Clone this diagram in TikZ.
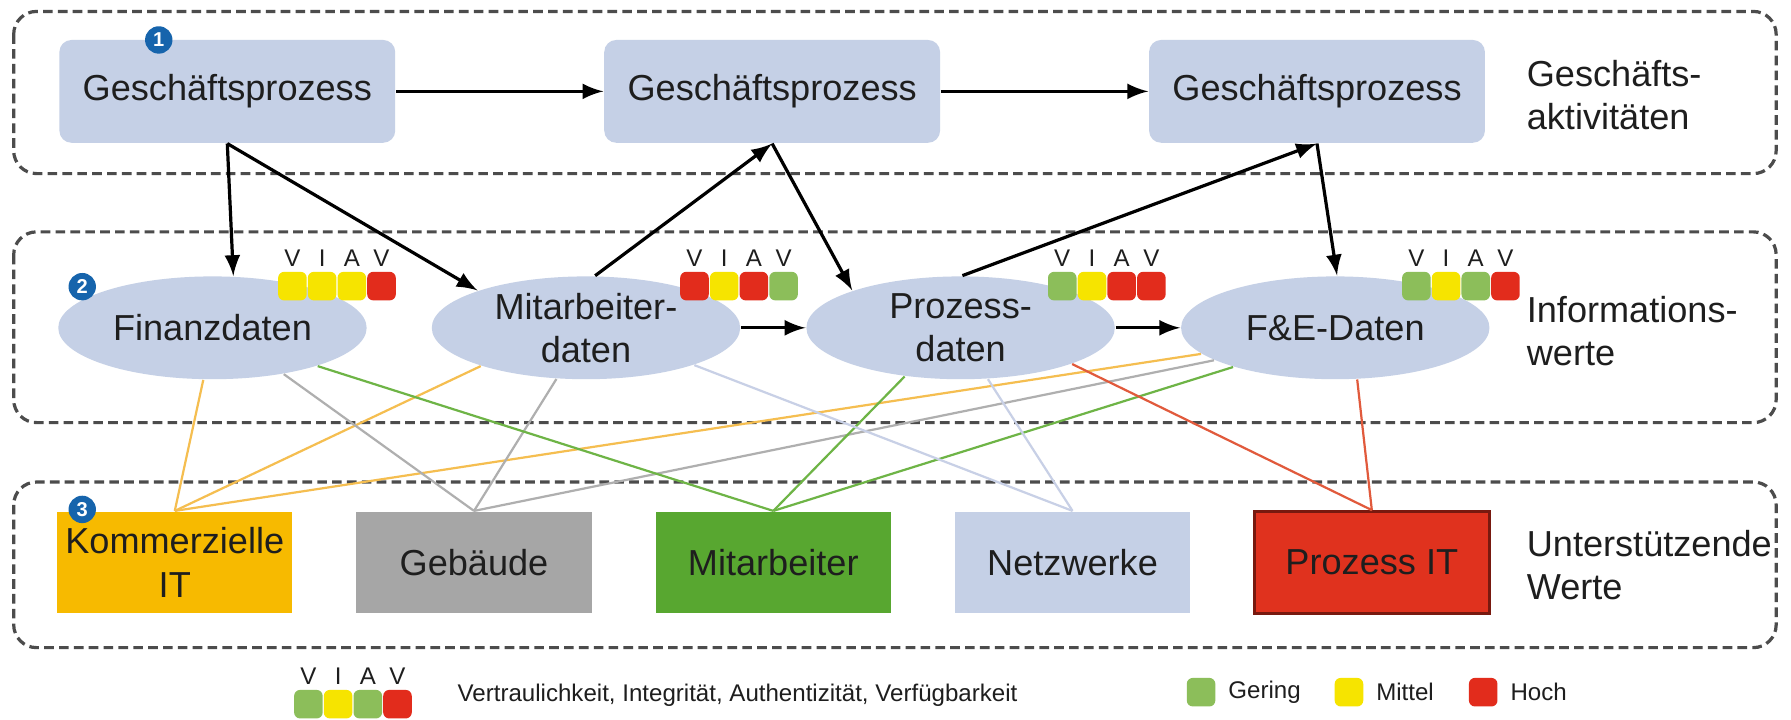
\documentclass[tikz,border=0pt]{standalone}
\usepackage{fontspec}
\setmainfont{Liberation Sans}
\usepackage{tikz}
\usetikzlibrary{arrows,positioning,shapes.geometric}

\definecolor{procblue}{RGB}{197,208,230}
\definecolor{kitorange}{RGB}{247,186,0}
\definecolor{buildgray}{RGB}{166,166,166}
\definecolor{staffgreen}{RGB}{88,167,48}
\definecolor{itred}{RGB}{224,50,30}
\definecolor{itborder}{RGB}{120,25,15}
\definecolor{lowgreen}{RGB}{140,190,90}
\definecolor{midyellow}{RGB}{246,228,0}
\definecolor{highred}{RGB}{226,44,28}
\definecolor{badgeblue}{RGB}{22,100,172}
\definecolor{textdark}{RGB}{30,30,30}
\definecolor{linkorange}{RGB}{245,190,80}
\definecolor{linkgray}{RGB}{175,175,175}
\definecolor{linkgreen}{RGB}{110,180,70}
\definecolor{linkblue}{RGB}{200,208,230}
\definecolor{linkred}{RGB}{225,90,60}

% name, x, y, four colours
\newcommand{\viav}[7]{%
  \foreach \col [count=\i] in {#4,#5,#6,#7}
    \node[viavsq, fill=\col] (#1-\i) at ({#2+(\i-0.5)*0.26},#3) {};
  \foreach \ltr [count=\i] in {V,I,A,V}
    \node[viavlt] (#1-l\i) at ({#2+(\i-0.5)*0.26},{#3+0.245}) {\ltr};
}

\begin{document}
\begin{tikzpicture}[
  font=\fontsize{9}{10.8}\selectfont, text=textdark,
  group/.style={draw=black!70, dash pattern=on 2.4pt off 1.3pt, line width=0.8pt, rounded corners=0.2cm},
  process/.style={rectangle, rounded corners=3pt, fill=procblue, minimum width=2.94cm, minimum height=0.90cm},
  info/.style={ellipse, fill=procblue, minimum width=2.70cm, minimum height=0.90cm, inner sep=0pt, align=center},
  asset/.style={rectangle, minimum width=2.06cm, minimum height=0.89cm, inner sep=0pt, align=center},
  badge/.style={circle, fill=badgeblue, text=white, inner sep=0pt, minimum size=0.24cm, font=\fontsize{5}{5}\selectfont\bfseries},
  sidelabel/.style={anchor=west, align=left, inner sep=0pt},
  viavsq/.style={rectangle, rounded corners=1.5pt, minimum width=0.25cm, minimum height=0.25cm, inner sep=0pt},
  viavlt/.style={font=\fontsize{6}{6}\selectfont, inner sep=0pt},
  legendtext/.style={anchor=west, inner sep=0pt, font=\fontsize{6}{7}\selectfont},
  flow/.style={->, >=latex, line width=0.8pt},
  link/.style={line width=0.55pt}
]
\fill[white] (0,0) rectangle (15.68,-6.30);

% layers
\draw[group] (0.12,-0.10) rectangle (15.55,-1.52);
\draw[group] (0.12,-2.03) rectangle (15.55,-3.70);
\draw[group] (0.12,-4.22) rectangle (15.55,-5.67);

% business processes
\node at (1.99,-0.80) [process] (gp1) {Geschäftsprozess};
\node[process] (gp2) [right of=gp1, xshift=3.77cm] {Geschäftsprozess};
\node[process] (gp3) [right of=gp2, xshift=3.77cm] {Geschäftsprozess};
\node at (13.36,-0.83) [sidelabel] (lbl1) {Geschäfts-\\aktivitäten};

% information values
\node at (1.86,-2.87) [info] (fin) {Finanzdaten};
\node[info] (mit) [right of=fin, xshift=2.27cm] {Mitarbeiter-\\daten};
\node[info] (proz) [right of=mit, xshift=2.28cm] {Prozess-\\daten};
\node[info] (fe) [right of=proz, xshift=2.28cm] {F\&E-Daten};
\node at (13.36,-2.90) [sidelabel] (lbl2) {Informations-\\werte};

% supporting values
\node at (1.53,-4.925) [asset, fill=kitorange] (kit) {Kommerzielle\\IT};
\node[asset, fill=buildgray] (geb) [right of=kit, xshift=1.62cm] {Gebäude};
\node[asset, fill=staffgreen] (staff) [right of=geb, xshift=1.62cm] {Mitarbeiter};
\node[asset, fill=procblue] (netz) [right of=staff, xshift=1.62cm] {Netzwerke};
\node[asset, fill=itred, draw=itborder, line width=0.8pt] (pit) [right of=netz, xshift=1.62cm] {Prozess IT};
\node at (13.36,-4.95) [sidelabel] (lbl3) {Unterstützende\\Werte};

% ratings
\viav{finr}{2.43}{-2.505}{midyellow}{midyellow}{midyellow}{highred}
\viav{mitr}{5.95}{-2.505}{highred}{midyellow}{highred}{lowgreen}
\viav{prozr}{9.17}{-2.505}{lowgreen}{midyellow}{highred}{highred}
\viav{fer}{12.27}{-2.505}{lowgreen}{midyellow}{lowgreen}{highred}

% badges
\node at (1.39,-0.35) [badge] (b1) {1};
\node at (0.72,-2.51) [badge] (b2) {2};
\node at (0.72,-4.46) [badge] (b3) {3};

% process flow
\draw[flow] (gp1) -- (gp2);
\draw[flow] (gp2) -- (gp3);
\draw[flow] (gp1.south) -- (fin.68);
\draw[flow] (gp1.south) -- (mit.161);
\draw[flow] (mit.80) -- (gp2.south);
\draw[flow] (gp2.south) -- (proz.161);
\draw[flow] (proz.88) -- (gp3.south);
\draw[flow] (gp3.south) -- (fe.88);
\draw[flow] (mit) -- (proz);
\draw[flow] (proz) -- (fe);

% dependencies
\draw[link, draw=linkorange] (kit.north) -- (fin.260);
\draw[link, draw=linkorange] (kit.north) -- (mit.200);
\draw[link, draw=linkorange] (kit.north) -- (fe.191);
\draw[link, draw=linkgray] (geb.north) -- (fin.327);
\draw[link, draw=linkgray] (geb.north) -- (mit.240);
\draw[link, draw=linkgray] (geb.north) -- (fe.195);
\draw[link, draw=linkgreen] (staff.north) -- (fin.340);
\draw[link, draw=linkgreen] (staff.north) -- (proz.221);
\draw[link, draw=linkgreen] (staff.north) -- (fe.201);
\draw[link, draw=linkblue] (netz.north) -- (mit.341);
\draw[link, draw=linkblue] (netz.north) -- (proz.298);
\draw[link, draw=linkred] (pit.north) -- (proz.342);
\draw[link, draw=linkred] (pit.north) -- (fe.293);

% legend
\viav{leg}{2.57}{-6.165}{lowgreen}{midyellow}{lowgreen}{highred}
\node at (4.00,-6.09) [legendtext] (legtxt) {Vertraulichkeit, Integrität, Authentizität, Verfügbarkeit};
\node at (10.515,-6.06) [viavsq, fill=lowgreen] (low) {};
\node[legendtext] (lowtxt) [right=0.1cm of low] {Gering};
\node at (11.81,-6.06) [viavsq, fill=midyellow] (mid) {};
\node[legendtext] (midtxt) [right=0.1cm of mid] {Mittel};
\node at (12.985,-6.06) [viavsq, fill=highred] (high) {};
\node[legendtext] (hightxt) [right=0.1cm of high] {Hoch};
\end{tikzpicture}
\end{document}
